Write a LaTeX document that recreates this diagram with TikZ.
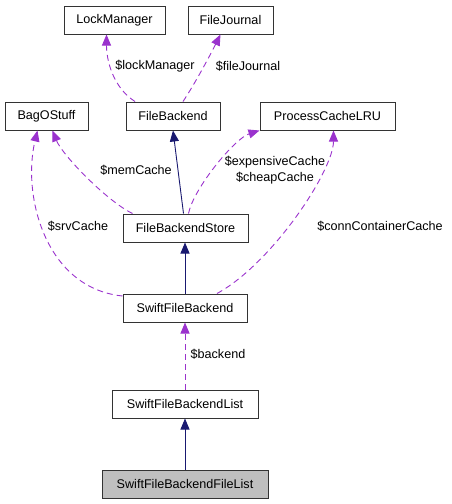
\documentclass[tikz,border=0pt]{standalone}
\usepackage{fontspec}
\setmainfont{Liberation Sans}
\usetikzlibrary{arrows.meta}
\definecolor{dep}{HTML}{9A32CD}
\definecolor{inh}{HTML}{191970}
\definecolor{edge}{HTML}{333333}
\begin{document}
\begin{tikzpicture}[x=1pt,y=-1pt,
  cls/.style={draw=edge,line width=1pt,fill=white,minimum height=28pt,inner sep=0pt,font=\fontsize{12.6}{15}\selectfont},
  lbl/.style={font=\fontsize{12.6}{16}\selectfont,inner sep=0pt,align=center},
  depe/.style={draw=dep,dashed,dash pattern=on 6pt off 4pt,line width=0.9pt,-{Triangle[length=11pt,width=9pt,fill=dep]}},
  inhe/.style={draw=inh,line width=0.9pt,-{Triangle[length=11pt,width=9pt,fill=inh]}}]
\useasboundingbox (0,0) rectangle (451,504);
\node[cls,minimum width=101pt] (LM) at (114.5,20) {LockManager};
\node[cls,minimum width=85pt] (FJ) at (230.5,20) {FileJournal};
\node[cls,minimum width=83pt] (BS) at (46.5,116) {BagOStuff};
\node[cls,minimum width=94pt] (FB) at (173,116) {FileBackend};
\node[cls,minimum width=135pt] (PC) at (327.5,116) {ProcessCacheLRU};
\node[cls,minimum width=125pt] (FBS) at (185.5,228) {FileBackendStore};
\node[cls,minimum width=124pt] (SFB) at (185,308) {SwiftFileBackend};
\node[cls,minimum width=146pt] (SFBL) at (185,404) {SwiftFileBackendList};
\node[cls,minimum width=166pt,fill=black!25] (SFBFL) at (185,484) {SwiftFileBackendFileList};

\draw[depe] ([xshift=-38pt]FB.north) .. controls +(-22,-14) and +(0,26) .. ([xshift=-8pt]LM.south);
\node[lbl] (l1) at (155,66) {\$lockManager};
\draw[depe] ([xshift=10pt]FB.north) .. controls +(12,-18) and +(-10,20) .. ([xshift=-10pt]FJ.south);
\node[lbl] (l2) at (248,66) {\$fileJournal};

\draw[depe] ([xshift=-53pt]FBS.north) .. controls +(-25,-12) and +(10,25) .. ([xshift=6pt]BS.south);
\node[lbl] (l3) at (136,170) {\$memCache};
\draw[depe] (SFB.west) ++(0,-12) .. controls (45,288) and (22,195) .. ([xshift=-9pt]BS.south);
\node[lbl] (l4) at (78,226) {\$srvCache};

\draw[inhe] ([xshift=-2pt]FBS.north) -- (FB.south);
\draw[depe] ([xshift=3pt]FBS.north) .. controls +(5,-25) and +(-25,8) .. (PC.south west);
\node[lbl] (l5) at (275,170) {\$expensiveCache\\\$cheapCache};
\draw[depe] ([xshift=32pt]SFB.north) .. controls +(55,-30) and +(0,40) .. ([xshift=6pt]PC.south);
\node[lbl] (l6) at (380,226) {\$connContainerCache};

\draw[inhe] (SFB.north) -- (FBS.south -| SFB.north);
\draw[depe] (SFBL.north) -- (SFB.south);
\node[lbl] (l7) at (218,354) {\$backend};
\draw[inhe] (SFBFL.north) -- (SFBL.south);
\end{tikzpicture}
\end{document}
